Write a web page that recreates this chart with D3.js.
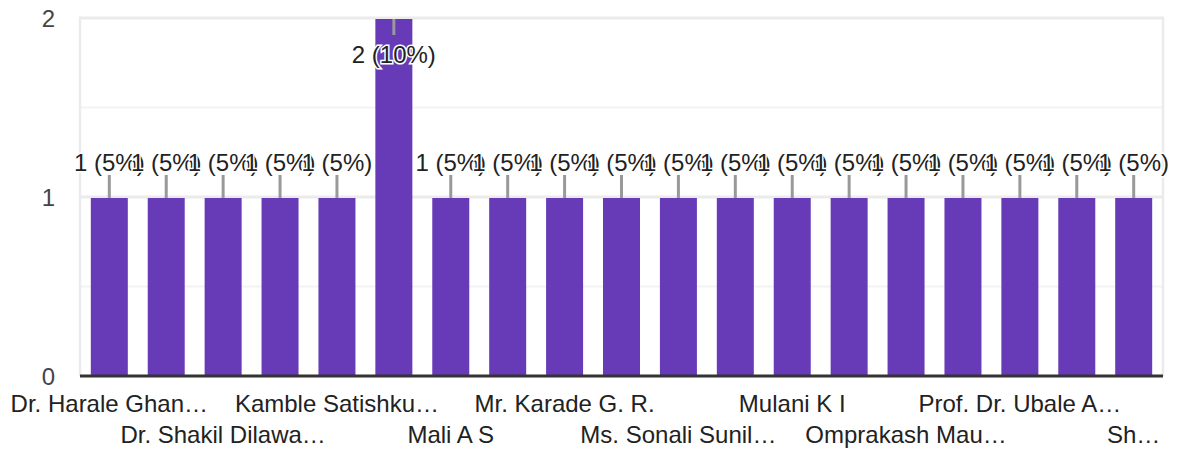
<!DOCTYPE html>
<html>
<head>
<meta charset="utf-8">
<script src="https://cdn.jsdelivr.net/npm/d3@7"></script>
<style>
    body { margin: 0; background: #fff; }
    text { font-family: Arial, "Liberation Sans", sans-serif; }
</style>
</head>
<body>
<div id="chart"></div>
<script>
// categories (every other one is labelled on the axis, as in the original)
const names = [
    "Dr. Harale Ghan…", "Dr. Jadhav S…", "Dr. Shakil Dilawa…", "Gaikwad R…",
    "Kamble Satishku…", "Kulkarni P…", "Mali A S", "Mane S…",
    "Mr. Karade G. R.", "Mr. Pawar…", "Ms. Sonali Sunil…", "Mujawar…",
    "Mulani K I", "Nikam…", "Omprakash Mau…", "Patil…",
    "Prof. Dr. Ubale A…", "Sawant…", "Sh…"
];
const counts = [1, 1, 1, 1, 1, 2, 1, 1, 1, 1, 1, 1, 1, 1, 1, 1, 1, 1, 1];
const pcts = ["5%", "5%", "5%", "5%", "5%", "10%", "5%", "5%", "5%", "5%",
    "5%", "5%", "5%", "5%", "5%", "5%", "5%", "5%", "5%"];
const yTicks = [0, 1, 2];
const yMinor = [0.5, 1.5];

const width = 1177;
const height = 450;
const margin = { top: 18, right: 14, bottom: 74, left: 80 };
const innerW = width - margin.left - margin.right;
const innerH = height - margin.top - margin.bottom;
const fontSize = "24px";

const data = names.map((n, i) => ({ name: n, count: counts[i], pct: pcts[i] }));

const svg = d3.select("#chart").append("svg")
    .attr("width", width)
    .attr("height", height);

const x = d3.scaleBand()
    .domain(names)
    .range([0, innerW])
    .paddingInner(0.35)
    .paddingOuter(0.19);
const y = d3.scaleLinear().domain([0, 2]).range([innerH, 0]);

const g = svg.append("g")
    .attr("transform", "translate(" + margin.left + "," + margin.top + ")");

// minor gridlines
g.selectAll(".minor")
    .data(yMinor)
    .enter().append("line")
    .attr("x1", 0).attr("x2", innerW)
    .attr("y1", d => y(d)).attr("y2", d => y(d))
    .attr("stroke", "#f3f3f3")
    .attr("stroke-width", 2);

// major gridlines
g.selectAll(".major")
    .data(yTicks.filter(d => d > 0))
    .enter().append("line")
    .attr("x1", 0).attr("x2", innerW)
    .attr("y1", d => y(d)).attr("y2", d => y(d))
    .attr("stroke", "#ebebeb")
    .attr("stroke-width", 3);

// vertical frame lines
[0, innerW].forEach(xv => {
    g.append("line")
        .attr("x1", xv).attr("x2", xv)
        .attr("y1", y(2) - 1.5).attr("y2", innerH)
        .attr("stroke", "#ebebeb")
        .attr("stroke-width", 2.5);
});

// y tick labels
g.selectAll(".ytick")
    .data(yTicks)
    .enter().append("text")
    .attr("x", -25)
    .attr("y", d => y(d) + 9)
    .attr("text-anchor", "end")
    .attr("font-size", fontSize)
    .attr("fill", "#444")
    .text(d => d);

// bars
g.selectAll(".bar")
    .data(data)
    .enter().append("rect")
    .attr("class", "bar")
    .attr("x", d => x(d.name))
    .attr("y", d => y(d.count) + 1)
    .attr("width", x.bandwidth())
    .attr("height", d => innerH - y(d.count) - 1)
    .attr("fill", "#673ab7");

// axis baseline
g.append("line")
    .attr("x1", 0).attr("x2", innerW)
    .attr("y1", innerH).attr("y2", innerH)
    .attr("stroke", "#333")
    .attr("stroke-width", 3);

// value annotations: stems + labels
const atTop = d => d.count === 2;
g.selectAll(".stem")
    .data(data)
    .enter().append("line")
    .attr("x1", d => x(d.name) + x.bandwidth() / 2)
    .attr("x2", d => x(d.name) + x.bandwidth() / 2)
    .attr("y1", d => y(d.count) + 1)
    .attr("y2", d => atTop(d) ? y(d.count) + 17 : y(d.count) - 22)
    .attr("stroke", "#999")
    .attr("stroke-width", 3);

g.selectAll(".ann")
    .data(data)
    .enter().append("text")
    .attr("x", d => x(d.name) + x.bandwidth() / 2)
    .attr("y", d => atTop(d) ? y(d.count) + 45 : y(d.count) - 26)
    .attr("text-anchor", "middle")
    .attr("font-size", fontSize)
    .attr("fill", "#222")
    .attr("stroke", "#fff")
    .attr("stroke-width", 3)
    .attr("paint-order", "stroke")
    .text(d => `${d.count} (${d.pct})`);

// category labels, staggered on two rows, every other category
g.selectAll(".xlab")
    .data(data.filter((d, i) => i % 2 === 0))
    .enter().append("text")
    .attr("x", d => x(d.name) + x.bandwidth() / 2)
    .attr("y", (d, i) => innerH + (i % 2 === 0 ? 36 : 67))
    .attr("text-anchor", "middle")
    .attr("font-size", fontSize)
    .attr("fill", "#222")
    .text(d => d.name);
</script>
</body>
</html>
